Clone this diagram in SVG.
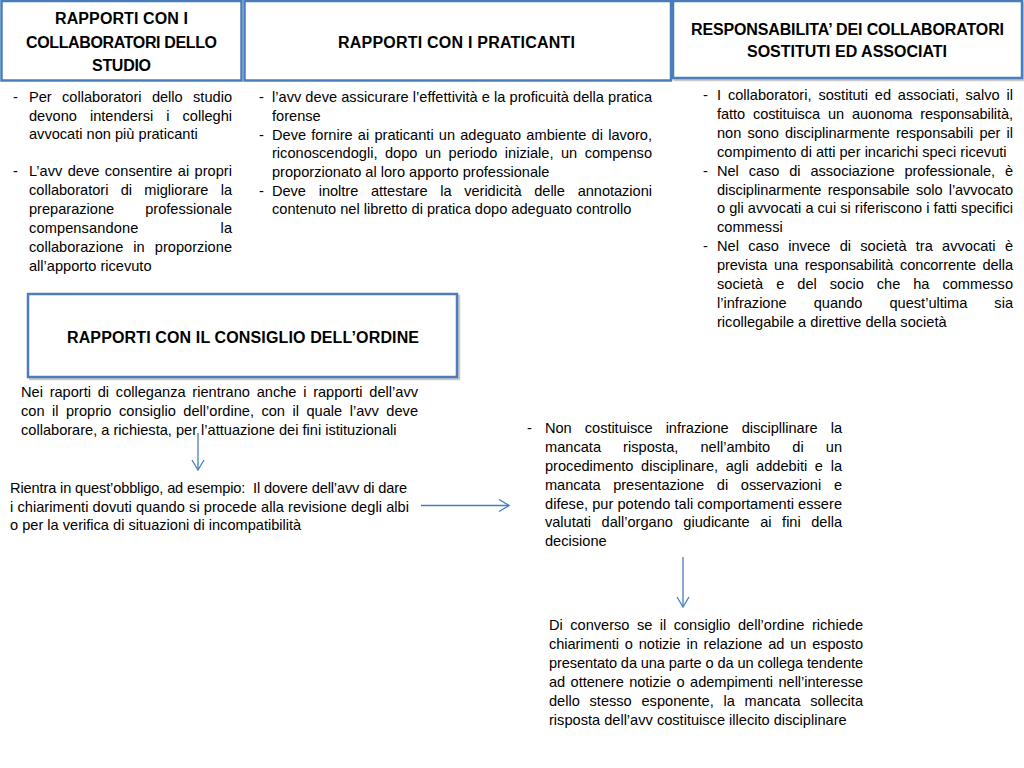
<svg xmlns="http://www.w3.org/2000/svg" width="1024" height="768" viewBox="0 0 1024 768">
<defs>
<style>
.b{font-family:"Liberation Sans",Arial,sans-serif;font-size:14.6px;fill:#000}
.h{font-family:"Liberation Sans",Arial,sans-serif;font-size:16px;font-weight:bold;fill:#000;text-anchor:middle}
.box{fill:#fff;stroke:#4a7ebb;stroke-width:2.5}
.sh{fill:none;stroke:#c9c9c9;stroke-width:2.5}
.con{fill:none;stroke:#4a7ebb;stroke-width:1.3}
</style>
<marker id="arr" markerUnits="userSpaceOnUse" markerWidth="12" markerHeight="14" viewBox="0 0 12 14" refX="11" refY="7" orient="auto">
<path d="M1,1 L11,7 L1,13" fill="none" stroke="#4a7ebb" stroke-width="1.3"/>
</marker>
</defs>
<rect width="1024" height="768" fill="#fff"/>

<g id="box-collaboratori">
<rect class="box" x="1.5" y="1" width="240" height="79.5"/>
<text class="h" x="121.5" y="24" textLength="133" lengthAdjust="spacing">RAPPORTI CON I</text>
<text class="h" x="121.5" y="47.5" textLength="191" lengthAdjust="spacing">COLLABORATORI DELLO</text>
<text class="h" x="121.5" y="71" textLength="59" lengthAdjust="spacing">STUDIO</text>
</g>

<g id="box-praticanti">
<rect class="box" x="244.5" y="1" width="426.5" height="79.5"/>
<text class="h" x="456.5" y="48" textLength="237" lengthAdjust="spacing">RAPPORTI CON I PRATICANTI</text>
</g>

<g id="box-responsabilita">
<rect class="sh" x="675" y="3" width="349" height="77"/>
<rect class="box" x="673" y="1" width="349" height="77"/>
<text class="h" x="847.5" y="35" textLength="313" lengthAdjust="spacing">RESPONSABILITA’ DEI COLLABORATORI</text>
<text class="h" x="847" y="57" textLength="200" lengthAdjust="spacing">SOSTITUTI ED ASSOCIATI</text>
</g>

<g id="box-consiglio">
<rect class="sh" x="30" y="296" width="429" height="83"/>
<rect class="box" x="28" y="294" width="429" height="83"/>
<text class="h" x="243" y="343" textLength="352" lengthAdjust="spacing">RAPPORTI CON IL CONSIGLIO DELL’ORDINE</text>
</g>

<g id="text-collaboratori">
<text class="b" x="13" y="102">-</text>
<text class="b" x="29" y="102" textLength="203" lengthAdjust="spacing" style="word-spacing:6.3px">Per collaboratori dello studio</text>
<text class="b" x="29" y="120.5" textLength="203" lengthAdjust="spacing" style="word-spacing:9px">devono intendersi i colleghi</text>
<text class="b" x="29" y="139">avvocati non più praticanti</text>
<text class="b" x="13" y="176">-</text>
<text class="b" x="29" y="176" textLength="203" lengthAdjust="spacing" style="word-spacing:1.2px">L’avv deve consentire ai propri</text>
<text class="b" x="29" y="195" textLength="203" lengthAdjust="spacing" style="word-spacing:8.2px">collaboratori di migliorare la</text>
<text class="b" x="29" y="214" textLength="203" lengthAdjust="spacing" style="word-spacing:27px">preparazione professionale</text>
<text class="b" x="29" y="233" textLength="203" lengthAdjust="spacing" style="word-spacing:78px">compensandone la</text>
<text class="b" x="29" y="252" textLength="203" lengthAdjust="spacing" style="word-spacing:6px">collaborazione in proporzione</text>
<text class="b" x="29" y="271">all’apporto ricevuto</text>
</g>

<g id="text-praticanti">
<text class="b" x="259" y="102">-</text>
<text class="b" x="272" y="102" textLength="380" lengthAdjust="spacing">l’avv deve assicurare l’effettività e la proficuità della pratica</text>
<text class="b" x="272" y="120.5">forense</text>
<text class="b" x="259" y="139.5">-</text>
<text class="b" x="272" y="139.5" textLength="380" lengthAdjust="spacing" style="word-spacing:1.1px">Deve fornire ai praticanti un adeguato ambiente di lavoro,</text>
<text class="b" x="272" y="158" textLength="380" lengthAdjust="spacing" style="word-spacing:3.4px">riconoscendogli, dopo un periodo iniziale, un compenso</text>
<text class="b" x="272" y="177">proporzionato al loro apporto professionale</text>
<text class="b" x="259" y="195.5">-</text>
<text class="b" x="272" y="195.5" textLength="380" lengthAdjust="spacing" style="word-spacing:8.7px">Deve inoltre attestare la veridicità delle annotazioni</text>
<text class="b" x="272" y="214">contenuto nel libretto di pratica dopo adeguato controllo</text>
</g>

<g id="text-responsabilita">
<text class="b" x="703" y="99.5">-</text>
<text class="b" x="717" y="99.5" textLength="296" lengthAdjust="spacing" style="word-spacing:2.8px">I collaboratori, sostituti ed associati, salvo il</text>
<text class="b" x="717" y="118.5" textLength="296" lengthAdjust="spacing" style="word-spacing:4.1px">fatto costituisca un auonoma responsabilità,</text>
<text class="b" x="717" y="137.5" textLength="296" lengthAdjust="spacing" style="word-spacing:2.2px">non sono disciplinarmente responsabili per il</text>
<text class="b" x="717" y="156.5">compimento di atti per incarichi speci ricevuti</text>
<text class="b" x="703" y="175.5">-</text>
<text class="b" x="717" y="175.5" textLength="296" lengthAdjust="spacing" style="word-spacing:5.8px">Nel caso di associazione professionale, è</text>
<text class="b" x="717" y="194.5" textLength="296" lengthAdjust="spacing" style="word-spacing:2.3px">disciplinarmente responsabile solo l’avvocato</text>
<text class="b" x="717" y="213" textLength="296" lengthAdjust="spacing">o gli avvocati a cui si riferiscono i fatti specifici</text>
<text class="b" x="717" y="232">commessi</text>
<text class="b" x="703" y="251">-</text>
<text class="b" x="717" y="251" textLength="296" lengthAdjust="spacing" style="word-spacing:5.2px">Nel caso invece di società tra avvocati è</text>
<text class="b" x="717" y="270" textLength="296" lengthAdjust="spacing" style="word-spacing:2.7px">prevista una responsabilità concorrente della</text>
<text class="b" x="717" y="289" textLength="296" lengthAdjust="spacing" style="word-spacing:8.9px">società e del socio che ha commesso</text>
<text class="b" x="717" y="308" textLength="296" lengthAdjust="spacing" style="word-spacing:23px">l’infrazione quando quest’ultima sia</text>
<text class="b" x="717" y="327">ricollegabile a direttive della società</text>
</g>

<g id="text-consiglio">
<text class="b" x="21" y="397" textLength="397" lengthAdjust="spacing" style="word-spacing:2.7px">Nei raporti di colleganza rientrano anche i rapporti dell’avv</text>
<text class="b" x="21" y="416" textLength="397" lengthAdjust="spacing" style="word-spacing:3.4px">con il proprio consiglio dell’ordine, con il quale l’avv deve</text>
<text class="b" x="21" y="435">collaborare, a richiesta, per l’attuazione dei fini istituzionali</text>
</g>

<g id="text-rientra">
<text class="b" x="10" y="493" textLength="397" lengthAdjust="spacing" xml:space="preserve">Rientra in quest’obbligo, ad esempio:  Il dovere dell’avv di dare</text>
<text class="b" x="10" y="511.5" textLength="399" lengthAdjust="spacing">i chiarimenti dovuti quando si procede alla revisione degli albi</text>
<text class="b" x="10" y="530">o per la verifica di situazioni di incompatibilità</text>
</g>

<g id="text-non-costituisce">
<text class="b" x="527" y="433">-</text>
<text class="b" x="545" y="433" textLength="297" lengthAdjust="spacing" style="word-spacing:9.1px">Non costituisce infrazione discipllinare la</text>
<text class="b" x="545" y="452" textLength="297" lengthAdjust="spacing" style="word-spacing:18px">mancata risposta, nell’ambito di un</text>
<text class="b" x="545" y="471" textLength="297" lengthAdjust="spacing" style="word-spacing:3.6px">procedimento disciplinare, agli addebiti e la</text>
<text class="b" x="545" y="490" textLength="297" lengthAdjust="spacing" style="word-spacing:8.8px">mancata presentazione di osservazioni e</text>
<text class="b" x="545" y="508.5" textLength="297" lengthAdjust="spacing">difese, pur potendo tali comportamenti essere</text>
<text class="b" x="545" y="527" textLength="297" lengthAdjust="spacing" style="word-spacing:6.5px">valutati dall’organo giudicante ai fini della</text>
<text class="b" x="545" y="546">decisione</text>
</g>

<g id="text-di-converso">
<text class="b" x="549" y="630" textLength="314" lengthAdjust="spacing" style="word-spacing:3.4px">Di converso se il consiglio dell’ordine richiede</text>
<text class="b" x="549" y="649" textLength="314" lengthAdjust="spacing" style="word-spacing:1.9px">chiarimenti o notizie in relazione ad un esposto</text>
<text class="b" x="549" y="668" textLength="314" lengthAdjust="spacing">presentato da una parte o da un collega tendente</text>
<text class="b" x="549" y="687" textLength="314" lengthAdjust="spacing" style="word-spacing:1.5px">ad ottenere notizie o adempimenti nell’interesse</text>
<text class="b" x="549" y="706" textLength="314" lengthAdjust="spacing" style="word-spacing:5.7px">dello stesso esponente, la mancata sollecita</text>
<text class="b" x="549" y="725">risposta dell’avv costituisce illecito disciplinare</text>
</g>

<g id="connectors">
<path class="con" d="M198,433 L198,470" marker-end="url(#arr)"/>
<path class="con" d="M421,505.5 L509,505.5" marker-end="url(#arr)"/>
<path class="con" d="M683,557 L683,607" marker-end="url(#arr)"/>
</g>
</svg>
